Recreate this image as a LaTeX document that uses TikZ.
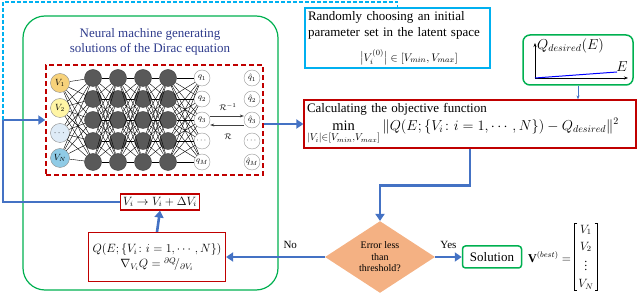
\documentclass[tikz,border=0pt]{standalone}
\usepackage{amsmath, amssymb}
\usepackage{fontspec}
\setmainfont{Liberation Serif}
\usepackage{xcolor}
\usetikzlibrary{positioning,arrows.meta,shapes.geometric,fit,calc}

\definecolor{flowblue}{HTML}{4472C4}
\definecolor{boxred}{HTML}{C00000}
\definecolor{boxgreen}{HTML}{00B050}
\definecolor{boxcyan}{HTML}{00B0F0}
\definecolor{titleblue}{HTML}{2E3B8C}
\definecolor{dorange}{HTML}{F4B183}
\definecolor{inone}{HTML}{F7D27B}
\definecolor{intwo}{HTML}{FFF5A5}
\definecolor{inthree}{HTML}{DEEBF7}
\definecolor{infour}{HTML}{8FCBE6}

\begin{document}
\begin{tikzpicture}[x=1pt, y=-1pt, every node/.style={font=\fontsize{12}{14}\selectfont},
  redbox/.style={draw=boxred, line width=1.2pt, inner sep=3pt},
  flow/.style={flowblue, line width=2.6pt, -{Triangle[length=7pt,width=9pt]}},
  hid/.style={circle, draw=black!75, fill=black!65, minimum size=17pt, inner sep=0pt},
  outn/.style={circle, draw=black!40, fill=white, minimum size=16pt, inner sep=0pt, font=\fontsize{8}{9}\selectfont},
  inn/.style={circle, draw=black!45, minimum size=19pt, inner sep=0pt, font=\fontsize{9}{10}\selectfont},
  tiny/.style={font=\fontsize{8.5}{9}\selectfont},
  answer/.style={text=black, font=\fontsize{11}{12}\selectfont}]
\useasboundingbox (0,0) rectangle (640,296);
\node[draw=boxgreen, line width=1.2pt, rounded corners=22pt, minimum width=255pt, minimum height=274pt] (machine) at (150.5,153) {};
\node[titleblue, align=center, font=\fontsize{13}{15.5}\selectfont] (title) at (150,42) {Neural machine generating\\solutions of the Dirac equation};
\node[draw=boxred, dashed, dash pattern=on 5pt off 3pt, line width=1.5pt, minimum width=217pt, minimum height=110pt] (netbox) at (154.5,120) {};
\node[inn, fill=inone] (in1) at (60,83) {$V_1$};
\node[inn, fill=intwo] (in2) at (60,108) {$V_2$};
\node[inn, fill=inthree] (in3) at (60,133) {$\cdots$};
\node[inn, fill=infour] (in4) at (60,158) {$V_N$};
\foreach \c/\x in {1/93,2/118,3/143,4/168}
  \foreach \r/\y in {1/78,2/99,3/120,4/141,5/162}
    \node[hid] (h\c\r) at (\x,\y) {};
\foreach \r/\y/\t/\s in {1/78/q_1/\hat{q}_1, 2/99/q_2/\hat{q}_2, 3/120/q_3/\hat{q}_3, 4/141/\cdots/\cdots, 5/162/q_M/\hat{q}_M} {
  \node[outn] (q\r) at (202,\y) {$\t$};
  \node[outn] (qh\r) at (252,\y) {$\s$};
}
\foreach \i in {1,...,4} \foreach \r in {1,...,5} \draw[line width=0.4pt] (in\i) -- (h1\r);
\foreach \c [evaluate=\c as \n using int(\c+1)] in {1,2,3}
  \foreach \r in {1,...,5} \foreach \s in {1,...,5} \draw[line width=0.4pt] (h\c\r) -- (h\n\s);
\foreach \r in {1,...,5} \foreach \s in {1,...,5} \draw[line width=0.4pt] (h4\r) -- (q\s);
\draw[black!75, line width=0.5pt, -{Stealth[length=4pt]}] ([yshift=4pt]q3.east) -- ([yshift=4pt]qh3.west);
\draw[black!75, line width=0.5pt, -{Stealth[length=4pt]}] ([yshift=-5pt]qh3.west) -- ([yshift=-5pt]q3.east);
\node[tiny] (rinv) at (228,107) {$\mathcal{R}^{-1}$};
\node[tiny] (rfw) at (228,137) {$\mathcal{R}$};
\node[redbox] (upd) at (160,202) {$V_i \rightarrow V_i + \Delta V_i$};
\node[redbox, align=center, minimum width=137pt, minimum height=49pt] (grad) at (157,257) {$Q(E;\{V_i\colon i=1,\cdots,N\})$\\[1pt]$\nabla_{V_i}Q = {}^{\partial Q}\!/_{\partial V_i}$};
\node[draw=boxcyan, line width=1.2pt, text width=179pt, minimum height=60pt, inner sep=3pt, align=left, font=\fontsize{13}{16}\selectfont] (init) at (397.5,38) {Randomly choosing an initial\\parameter set in the latent space\\[9pt]\hspace*{52pt}{\fontsize{11}{13}\selectfont$\bigl|V_i^{(0)}\bigr| \in [V_{min}, V_{max}]$}};
\node[draw=boxgreen, line width=1.5pt, rounded corners=7pt, minimum width=110pt, minimum height=50pt] (qdes) at (578,60) {};
\coordinate (orig) at (535,78);
\coordinate (ytip) at (535,43);
\coordinate (xtip) at (628,78);
\coordinate (curve) at (617,72);
\draw[line width=0.8pt, -{Stealth[length=4pt]}] (orig) -- (ytip);
\draw[line width=0.8pt, -{Stealth[length=4pt]}] (orig) -- (xtip);
\draw[blue, line width=1pt] (orig) -- (curve);
\node[anchor=west, inner sep=1pt, font=\fontsize{14}{16}\selectfont] (qlab) at (536,46) {$Q_{desired}(E)$};
\node[font=\fontsize{14}{16}\selectfont] (elab) at (622,67) {$E$};
\node[redbox, text width=326pt, minimum height=48pt, align=left, inner sep=3pt, font=\fontsize{13}{14}\selectfont] (obj) at (470,124) {Calculating the objective function\\[2pt]{\fontsize{14.5}{15}\selectfont$\displaystyle\min_{|V_i|\in[V_{min},V_{max}]}\|Q(E;\{V_i\colon i=1,\cdots,N\})-Q_{desired}\|^2$}};
\node[diamond, fill=dorange, minimum width=110pt, minimum height=70pt, inner sep=0pt, align=center, font=\fontsize{10}{11.5}\selectfont] (check) at (380,257) {Error less\\than\\threshold?};
\node[draw=boxgreen, line width=1.5pt, rounded corners=3pt, minimum width=59pt, minimum height=22pt, inner sep=2pt, font=\fontsize{13}{15}\selectfont] (sol) at (492,257) {Solution};
\node[anchor=west, inner sep=0pt] (bestlab) at (528,257) {$\mathbf{V}^{(best)} =$};
\node[right=3pt of bestlab, inner xsep=4pt, inner ysep=1pt, align=center, font=\fontsize{12}{17}\selectfont] (vec) {$V_1$\\$V_2$\\[2pt]$\vdots$\\$V_N$};
\draw[line width=0.6pt] ([xshift=3pt]vec.north west) -- (vec.north west) -- (vec.south west) -- ([xshift=3pt]vec.south west);
\draw[line width=0.6pt] ([xshift=-3pt]vec.north east) -- (vec.north east) -- (vec.south east) -- ([xshift=-3pt]vec.south east);
\coordinate (turn) at (3,120);
\coordinate (dtop) at (3,2);
\draw[flow] (netbox.east |- obj.west) -- (obj.west);
\draw[flowblue, line width=0.8pt, -{Stealth[length=4pt]}] (qdes.south) -- (qdes.south |- obj.north);
\draw[flow] (obj.south) -- ++(0,37) -| (check.north);
\draw[flow] (check.east) -- (sol.west) node[midway, above=4pt, answer] (yes) {Yes};
\draw[flow] (check.west) -- (grad.east) node[pos=0.35, above=4pt, answer] (no) {No};
\draw[flow] (grad.north) -- (upd.south);
\draw[flow] (upd.west) -| (turn) -- (netbox.west);
\draw[boxcyan, line width=1.2pt, dash pattern=on 4pt off 2pt] (turn) -- (dtop) -| (init.north);
\end{tikzpicture}
\end{document}
